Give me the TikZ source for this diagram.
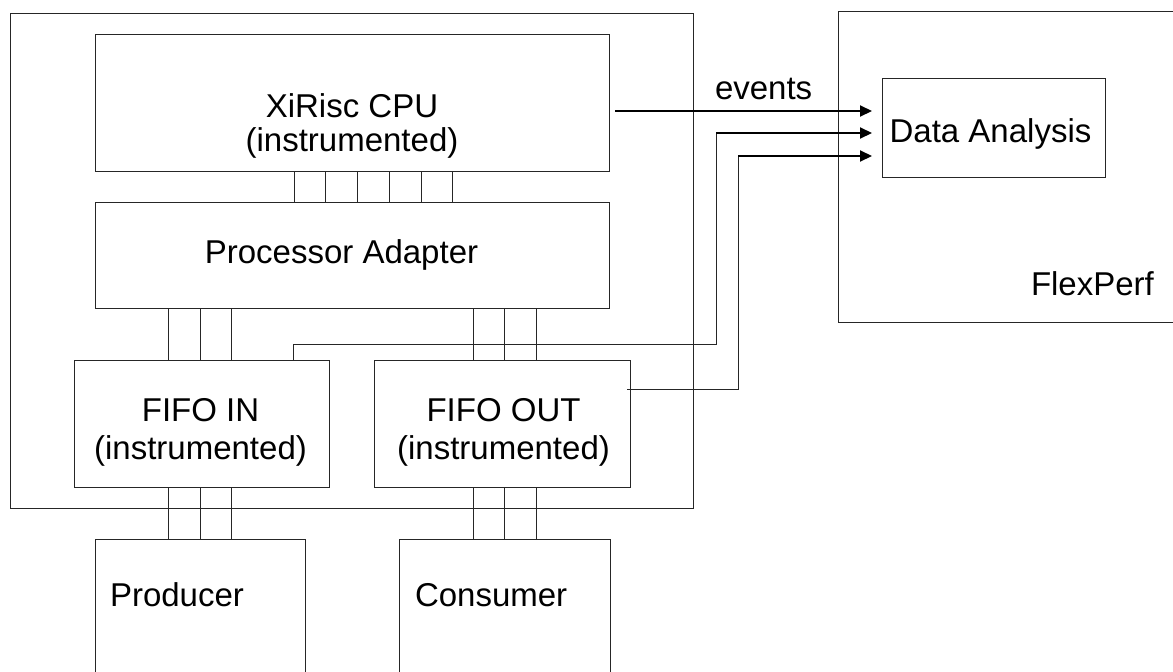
\documentclass[tikz,border=0pt]{standalone}
\usepackage{fontspec}
\setmainfont{Liberation Sans}
\usetikzlibrary{arrows.meta,calc}
\begin{document}
\begin{tikzpicture}[x=1pt,y=-1pt,
  box/.style={draw=black!85, line width=1pt, inner sep=0pt, outer sep=0pt, anchor=north west},
  lbl/.style={inner sep=0pt, outer sep=0pt, anchor=base, font=\fontsize{33}{39}\selectfont},
  wire/.style={draw=black!85, line width=1pt},
  sig/.style={draw=black, line width=2pt, -{Triangle[length=12pt,width=11pt]}}
]
\useasboundingbox (0,0) rectangle (1173,672);

% boxes
\node[box, minimum width=683pt, minimum height=495pt] (outer) at (10,13) {};
\node[box, minimum width=514pt, minimum height=137pt] (cpu) at (95,34) {};
\node[box, minimum width=514pt, minimum height=106pt] (pa) at (95,202) {};
\node[box, minimum width=255pt, minimum height=127pt] (fin) at (74,360) {};
\node[box, minimum width=256pt, minimum height=127pt] (fout) at (374,360) {};
\node[box, minimum width=210pt, minimum height=145pt] (prod) at (95,539) {};
\node[box, minimum width=211pt, minimum height=145pt] (cons) at (399,539) {};
\node[box, minimum width=350pt, minimum height=311pt] (flex) at (838,11) {};
\node[box, minimum width=223pt, minimum height=99pt] (da) at (882,78) {};

% labels
\node[lbl] (tcpu1) at (352,117) {XiRisc CPU};
\node[lbl] (tcpu2) at (352,151) {(instrumented)};
\node[lbl] (tpa) at (341.5,263) {Processor Adapter};
\node[lbl] (tfin1) at (200.5,421) {FIFO IN};
\node[lbl] (tfin2) at (200.5,459.5) {(instrumented)};
\node[lbl] (tfout1) at (503.5,421) {FIFO OUT};
\node[lbl] (tfout2) at (503.5,459.5) {(instrumented)};
\node[lbl, anchor=base west] (tprod) at (110,606) {Producer};
\node[lbl, anchor=base west] (tcons) at (415,606) {Consumer};
\node[lbl] (tda) at (990.5,142) {Data Analysis};
\node[lbl, anchor=base west] (tflex) at (1031,295) {FlexPerf};
\node[lbl, anchor=base west] (tev) at (715,99) {events};

% buses
\foreach \x in {294,325,357,389,421,452}
  \draw[wire] (cpu.south -| \x,0) -- (pa.north -| \x,0);
\foreach \x in {168,200,231} {
  \draw[wire] (pa.south -| \x,0) -- (fin.north -| \x,0);
  \draw[wire] (fin.south -| \x,0) -- (prod.north -| \x,0);
}
\foreach \x in {473,504,536} {
  \draw[wire] (pa.south -| \x,0) -- (fout.north -| \x,0);
  \draw[wire] (fout.south -| \x,0) -- (cons.north -| \x,0);
}

% signals
\coordinate (dain) at ([xshift=-10pt]da.west);
\coordinate (evs) at (615,111);
\draw[sig] (evs) -- (dain |- evs);

\coordinate (s2a) at (293,360);
\coordinate (s2b) at (716,133);
\draw[wire] (s2a) |- (716,344) -- (s2b);
\draw[sig] (s2b) -- (dain |- s2b);

\coordinate (s3a) at (627,389);
\coordinate (s3b) at (738,156);
\draw[wire] (s3a) -| (s3b);
\draw[sig] (s3b) -- (dain |- s3b);
\end{tikzpicture}
\end{document}
